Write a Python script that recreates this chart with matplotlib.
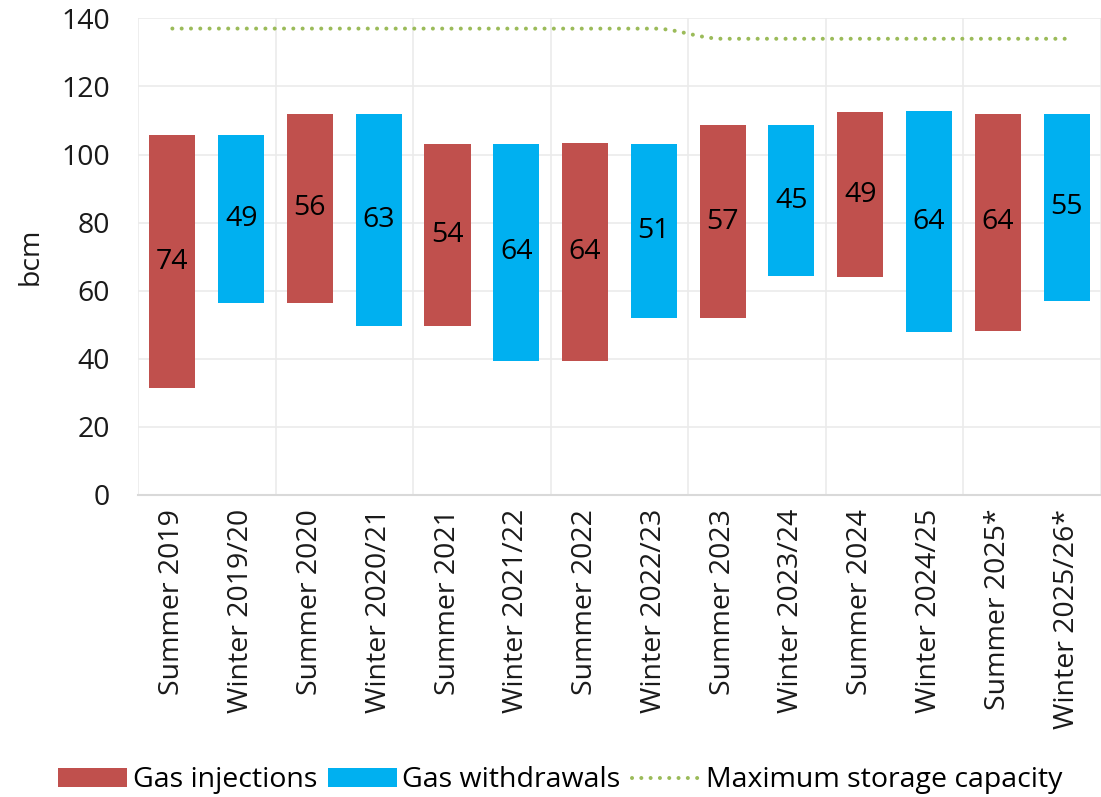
import numpy as np
import matplotlib
matplotlib.use("Agg")
import matplotlib.pyplot as plt
from matplotlib.lines import Line2D
from matplotlib.patches import Patch

plt.rcParams['font.family'] = ['Open Sans', 'DejaVu Sans']

categories = ["Summer 2019", "Winter 2019/20", "Summer 2020", "Winter 2020/21",
              "Summer 2021", "Winter 2021/22", "Summer 2022", "Winter 2022/23",
              "Summer 2023", "Winter 2023/24", "Summer 2024", "Winter 2024/25",
              "Summer 2025*", "Winter 2025/26*"]

# storage level range per period (bcm): low and high end of each floating bar
bar_low = [31.4, 56.3, 56.3, 49.6, 49.5, 39.3, 39.3, 51.9, 51.9, 64.2, 63.9, 47.9, 48.1, 57.1]
bar_high = [105.7, 105.6, 112.0, 112.0, 103.1, 103.2, 103.4, 103.2, 108.6, 108.6, 112.4, 112.7, 112.0, 112.0]
# data labels (volumes injected / withdrawn, bcm)
volume_labels = [74, 49, 56, 63, 54, 64, 64, 51, 57, 45, 49, 64, 64, 55]
# maximum storage capacity per period (bcm)
max_capacity = [137, 137, 137, 137, 137, 137, 137, 137, 134, 134, 134, 134, 134, 134]

red = "#C0504D"
blue = "#00B0F0"
green = "#9BBB59"
txt = "#1a1a1a"

fig = plt.figure(figsize=(11.01, 7.97), dpi=100)
ax = fig.add_axes([0.1253, 0.379, 0.8747, 0.598])

n = len(categories)
x = np.arange(n)
low = np.array(bar_low)
high = np.array(bar_high)
inj = x[0::2]
wdr = x[1::2]

bw = 0.67
b1 = ax.bar(inj, high[inj] - low[inj], bottom=low[inj], width=bw, color=red, zorder=3)
b2 = ax.bar(wdr, high[wdr] - low[wdr], bottom=low[wdr], width=bw, color=blue, zorder=3)

fs = 20.5
for bars, idx in ((b1, inj), (b2, wdr)):
    labs = ax.bar_label(bars, labels=[str(volume_labels[i]) for i in idx],
                        label_type='center', fontsize=fs, color='black', zorder=5)
    for t, i in zip(labs, idx):
        if categories[i] == "Winter 2024/25":
            t.set_bbox(dict(facecolor=blue, edgecolor='none', boxstyle='round,pad=0.12'))

# smoothed capacity line (monotone cubic Hermite through the points)
cap = np.array(max_capacity, dtype=float)
d = np.diff(cap)
m = np.zeros(n)
for i in range(1, n - 1):
    if d[i - 1] * d[i] > 0:
        m[i] = 0.5 * (d[i - 1] + d[i])
xs, ys = [], []
for i in range(n - 1):
    t = np.linspace(0, 1, 40, endpoint=(i == n - 2))
    h00 = 2 * t ** 3 - 3 * t ** 2 + 1
    h10 = t ** 3 - 2 * t ** 2 + t
    h01 = -2 * t ** 3 + 3 * t ** 2
    h11 = t ** 3 - t ** 2
    xs.append(x[i] + t)
    ys.append(h00 * cap[i] + h10 * m[i] + h01 * cap[i + 1] + h11 * m[i + 1])
dot_style = (0, (0.01, 2.3))
ax.plot(np.concatenate(xs), np.concatenate(ys), color=green, lw=2.9,
        linestyle=dot_style, dash_capstyle='round', zorder=4)

ax.set_xlim(-0.5, n - 0.5)
ax.set_ylim(0, 140)
ax.set_yticks(np.arange(0, 141, 20))
ax.grid(axis='y', color='#ebebeb', lw=1.2, zorder=0)
for xv in np.arange(-0.5, n, 2):
    ax.axvline(xv, color='#ebebeb', lw=1.2, zorder=0)
for s in ['top', 'right', 'left']:
    ax.spines[s].set_visible(False)
ax.spines['bottom'].set_color('#d9d9d9')
ax.spines['bottom'].set_linewidth(1.5)

ax.set_xticks(x)
ax.set_xticklabels(categories, rotation=90, fontsize=fs, color=txt)
ax.tick_params(axis='x', length=0, pad=10)
ax.tick_params(axis='y', length=0, pad=20, labelsize=fs, labelcolor=txt)
ax.set_ylabel("bcm", fontsize=fs, color=txt, labelpad=12)

handles = [Patch(facecolor=red, edgecolor='none'),
           Patch(facecolor=blue, edgecolor='none'),
           Line2D([0], [0], color=green, lw=2.9, linestyle=dot_style, dash_capstyle='round')]
fig.legend(handles, ["Gas injections", "Gas withdrawals", "Maximum storage capacity"],
           loc='center', bbox_to_anchor=(0.509, 0.021), ncol=3, frameon=False,
           fontsize=fs, handlelength=2.4, handleheight=0.65, handletextpad=0.2,
           columnspacing=0.4)

fig.savefig("out.png", dpi=100)
